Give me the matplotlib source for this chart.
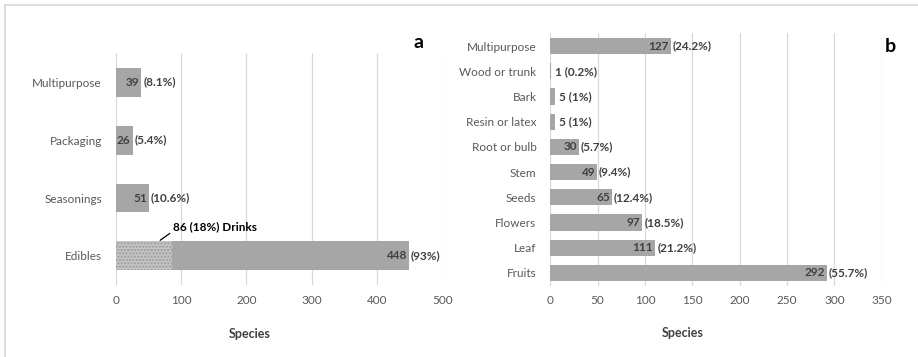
import matplotlib
matplotlib.use("Agg")
import matplotlib.pyplot as plt
from matplotlib.lines import Line2D

plt.rcParams['font.family'] = ['Lato', 'DejaVu Sans']

# Panel a data
a_categories = ["Edibles", "Seasonings", "Packaging", "Multipurpose"]
a_values = [448, 51, 26, 39]
a_percents = ["93%", "10.6%", "5.4%", "8.1%"]
a_drinks = 86
a_drinks_label = "86 (18%) Drinks"
a_ticks = [0, 100, 200, 300, 400, 500]

# Panel b data
b_categories = ["Fruits", "Leaf", "Flowers", "Seeds", "Stem", "Root or bulb",
                "Resin or latex", "Bark", "Wood or trunk", "Multipurpose"]
b_values = [292, 111, 97, 65, 49, 30, 5, 5, 1, 127]
b_percents = ["55.7%", "21.2%", "18.5%", "12.4%", "9.4%", "5.7%", "1%", "1%", "0.2%", "24.2%"]
b_ticks = [0, 50, 100, 150, 200, 250, 300, 350]

BAR = '#a6a6a6'
GRID = '#d9d9d9'
TXT = '#595959'
LBL = '#404040'

fig = plt.figure(figsize=(9.18, 3.57), dpi=100)

# figure border (top and left)
fig.add_artist(Line2D([5/918, 1], [1-5/357, 1-5/357], color=GRID, lw=1.2))
fig.add_artist(Line2D([5/918, 5/918], [0, 1-5/357], color=GRID, lw=1.2))


def style(ax, ticks, xmax):
    ax.set_xlim(0, xmax)
    ax.set_xticks(ticks)
    for s in ax.spines.values():
        s.set_visible(False)
    ax.tick_params(axis='both', length=0, colors=TXT, labelsize=8.5)
    ax.tick_params(axis='x', pad=7)
    ax.tick_params(axis='y', pad=10)
    ax.xaxis.grid(True, color=GRID, lw=0.9)
    ax.set_axisbelow(True)


def labels(ax, values, percents, small_thr):
    kw = dict(textcoords='offset points', va='center', fontsize=8.5,
              fontweight='bold', color=LBL)
    for i, (v, p) in enumerate(zip(values, percents)):
        if v < small_thr:
            ax.annotate(f"{v} ({p})", xy=(v, i), xytext=(3, 0), ha='left', **kw)
        else:
            ax.annotate(f"{v}", xy=(v, i), xytext=(-1.5, 0), ha='right', **kw)
            ax.annotate(f"({p})", xy=(v, i), xytext=(1.5, 0), ha='left', **kw)


# Panel a
axa = fig.add_axes([0.1260, 0.2017, 0.3562, 0.6498])
ya = list(range(len(a_categories)))
axa.barh(ya, a_values, height=0.5, color=BAR, edgecolor='none')
axa.barh([0], [a_drinks], height=0.5, color='#c4c4c4', edgecolor='#9a9a9a',
         hatch='.....', lw=0)
axa.set_yticks(ya)
axa.set_yticklabels(a_categories)
axa.set_ylim(-0.5, len(a_categories) - 0.5)
style(axa, a_ticks, 500)
labels(axa, a_values, a_percents, 12)
axa.annotate(a_drinks_label, xy=(68, 0.27), xytext=(87, 0.5), textcoords='data',
             fontsize=8.5, fontweight='bold', color='black', ha='left', va='center',
             arrowprops=dict(arrowstyle='-', color='black', lw=0.9,
                             shrinkA=0, shrinkB=0, relpos=(0, 0.1)))

# Panel b
axb = fig.add_axes([0.5995, 0.2000, 0.3610, 0.7064])
yb = list(range(len(b_categories)))
axb.barh(yb, b_values, height=0.64, color=BAR, edgecolor='none')
axb.set_yticks(yb)
axb.set_yticklabels(b_categories)
axb.set_ylim(-0.5, len(b_categories) - 0.5)
style(axb, b_ticks, 350)
labels(axb, b_values, b_percents, 10)

fig.text(250/918, 1-334/357, "Species", ha='center', va='center', fontsize=9,
         fontweight='bold', color=LBL)
fig.text(683/918, 1-333/357, "Species", ha='center', va='center', fontsize=9,
         fontweight='bold', color=LBL)
fig.text(419/918, 1-43/357, "a", ha='center', va='center', fontsize=14,
         fontweight='bold', color='black')
fig.text(890/918, 1-46/357, "b", ha='center', va='center', fontsize=14,
         fontweight='bold', color='black')

fig.savefig("out.png", dpi=100, facecolor='white')
